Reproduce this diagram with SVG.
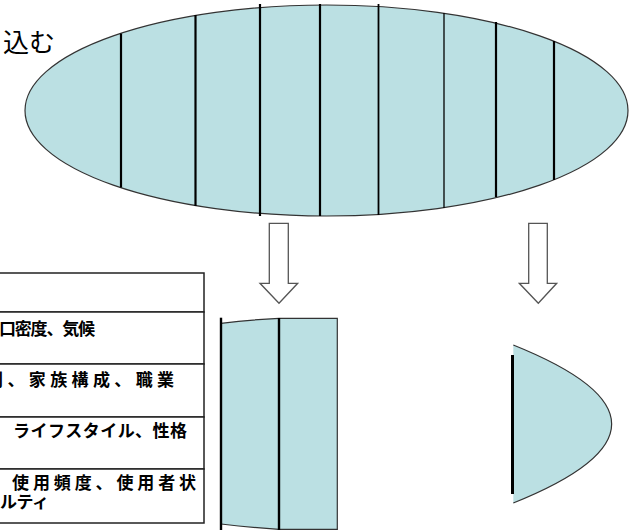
<svg xmlns="http://www.w3.org/2000/svg" width="631" height="530" viewBox="0 0 631 530">
<style>
.fill{fill:#BBE0E3;stroke:none}
.edge{fill:none;stroke:#333;stroke-width:1.2}
.div{stroke:#000;stroke-width:2.2}
.thin{stroke:#000;stroke-width:1.3}
.arrow{fill:#fff;stroke:#555;stroke-width:1.3}
.cell{fill:#fff;stroke:#222;stroke-width:1.5}
.t{font-family:"Noto Sans CJK JP","Noto Sans CJK SC",sans-serif;font-size:17px;font-weight:bold;fill:#000}
.big{font-family:"Noto Sans CJK JP","Noto Sans CJK SC",sans-serif;font-size:26px;fill:#000}
</style>
<g id="label-komu">
<text class="big" x="3" y="52">込む</text>
</g>
<g id="ellipse">
<ellipse cx="326.5" cy="110.5" rx="301.5" ry="105.5" fill="#BBE0E3" stroke="#333" stroke-width="1.2"/>
<line class="div" x1="121" y1="33.5" x2="121" y2="187.5"/>
<line class="div" x1="195.5" y1="15" x2="195.5" y2="206"/>
<line class="div" x1="260" y1="4" x2="260" y2="216"/>
<line class="div" x1="320" y1="4" x2="320" y2="216"/>
<line class="div" x1="378.5" y1="4" x2="378.5" y2="215" style="stroke-width:1.8"/>
<line class="thin" x1="444" y1="13" x2="444" y2="208"/>
<line class="div" x1="496" y1="22" x2="496" y2="197"/>
<line class="div" x1="554" y1="41" x2="554" y2="180"/>
</g>
<g id="connectors">
<polygon class="arrow" points="269.3,223.3 288.3,223.3 288.3,283.3 297.7,283.3 279,303.3 260,283.3 269.3,283.3"/>
<polygon class="arrow" points="528.7,223.3 547.3,223.3 547.3,283.3 556.7,283.3 538.3,303.3 519.3,283.3 528.7,283.3"/>
</g>
<g id="table">
<rect class="cell" x="-20" y="273" width="224" height="39"/>
<rect class="cell" x="-20" y="312" width="224" height="52"/>
<rect class="cell" x="-20" y="364" width="224" height="53"/>
<rect class="cell" x="-20" y="417" width="224" height="52"/>
<rect class="cell" x="-20" y="469" width="224" height="54"/>
<text class="t" x="-1" y="335" textLength="96" lengthAdjust="spacing">口密度、気候</text>
<text class="t" x="-14" y="386" textLength="188" lengthAdjust="spacing">別、家族構成、職業</text>
<text class="t" x="-7" y="437">、</text>
<text class="t" x="13" y="437" textLength="174" lengthAdjust="spacing">ライフスタイル、性格</text>
<text class="t" x="-7" y="489">、</text>
<text class="t" x="12" y="489" textLength="184" lengthAdjust="spacing">使用頻度、使用者状</text>
<text class="t" x="0" y="508" textLength="49" lengthAdjust="spacing">ルティ</text>
</g>
<g id="slice-middle">
<path class="fill" d="M221,323.3 Q250,319.8 279,318.3 L337.3,318.3 L337.3,531 L279,531 L279,529.3 Q250,527.5 221,524 Z"/>
<path class="edge" d="M221,323.3 Q250,319.8 279,318.3 L337.3,318.3 L337.3,531"/>
<path class="edge" d="M221,524 Q250,527.5 279,529.3 L337.3,529.3"/>
<line class="div" x1="221" y1="317.7" x2="221" y2="530" style="stroke-width:2.4"/>
<line class="div" x1="279" y1="318" x2="279" y2="530" style="stroke-width:2.4"/>
</g>
<g id="slice-end">
<path class="fill" d="M513.3,345 Q710,424 513.3,503 Z"/>
<path class="edge" d="M513.3,345 Q710,424 513.3,503"/>
<line class="div" x1="512.5" y1="355" x2="512.5" y2="494" style="stroke-width:3"/>
</g>
</svg>
